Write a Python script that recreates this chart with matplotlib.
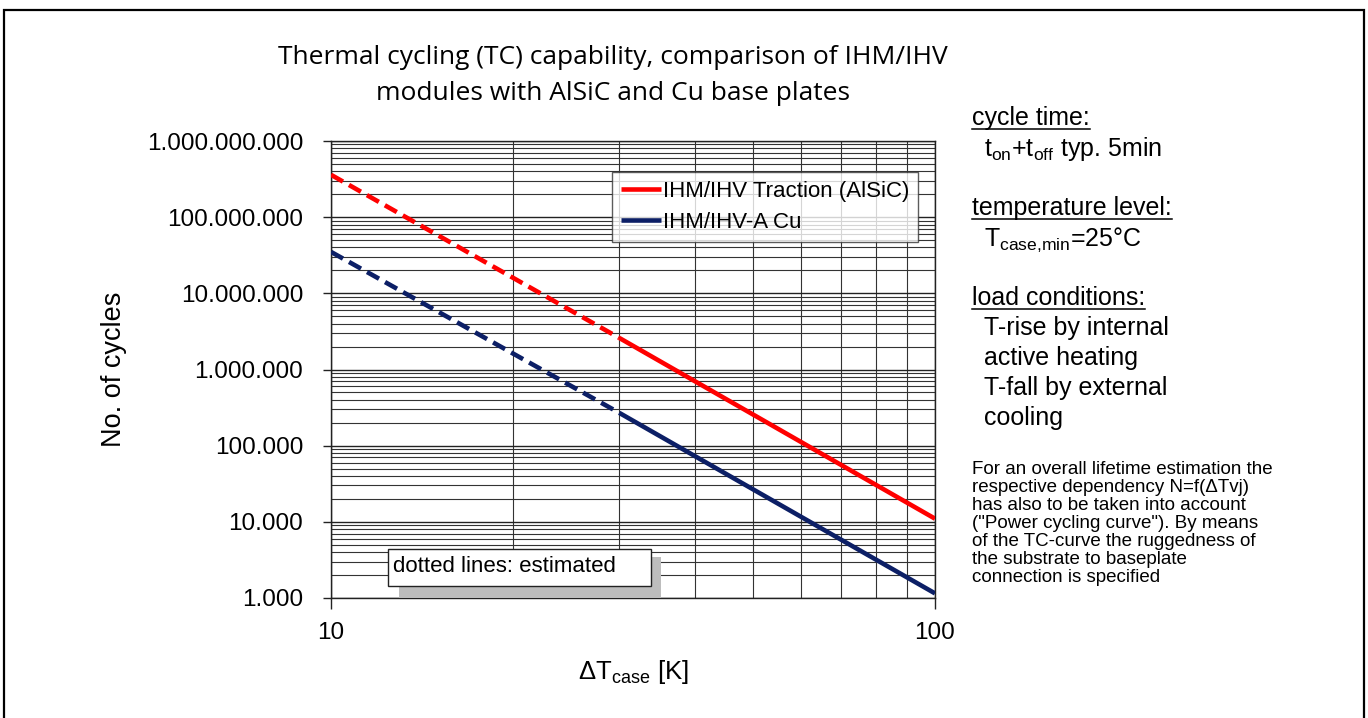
import matplotlib
matplotlib.use("Agg")
import matplotlib.pyplot as plt
from matplotlib.lines import Line2D
from matplotlib.patches import Rectangle
from matplotlib.ticker import FixedLocator, FuncFormatter, NullFormatter

plt.rcParams['font.family'] = ['Liberation Sans', 'DejaVu Sans']
plt.rcParams['mathtext.fontset'] = 'custom'
plt.rcParams['mathtext.rm'] = 'Liberation Sans'
plt.rcParams['mathtext.it'] = 'Liberation Sans'

# ---- data ----
dt_est = [10, 30]
dt_meas = [30, 100]
alsic_est = [3.6e8, 2.6e6]
alsic_meas = [2.6e6, 1.1e4]
cu_est = [3.5e7, 2.7e5]
cu_meas = [2.7e5, 1.15e3]
series_names = ["IHM/IHV Traction (AlSiC)", "IHM/IHV-A Cu"]
y_ticks = [1e3, 1e4, 1e5, 1e6, 1e7, 1e8, 1e9]
x_ticks = [10, 100]

RED = "#ff0000"
BLUE = "#0c1f66"
W, H = 1368, 718

fig = plt.figure(figsize=(13.68, 7.18), dpi=100)
ax = fig.add_axes([331 / W, 1 - 598 / H, (935 - 331) / W, (598 - 141) / H])
ax.set_xscale('log')
ax.set_yscale('log')
ax.set_xlim(10, 100)
ax.set_ylim(1e3, 1e9)

lw = 3.3
ax.plot(dt_est, alsic_est, color=RED, lw=lw, dashes=(3.0, 1.5), solid_capstyle='butt', zorder=5)
ax.plot(dt_meas, alsic_meas, color=RED, lw=lw, solid_capstyle='butt', zorder=5, label=series_names[0])
ax.plot(dt_est, cu_est, color=BLUE, lw=lw, dashes=(3.0, 1.5), solid_capstyle='butt', zorder=5)
ax.plot(dt_meas, cu_meas, color=BLUE, lw=lw, solid_capstyle='butt', zorder=5, label=series_names[1])

ax.yaxis.set_major_locator(FixedLocator(y_ticks))
ax.yaxis.set_major_formatter(FuncFormatter(lambda v, p: f"{int(round(v)):,}".replace(',', '.')))
ax.xaxis.set_major_locator(FixedLocator(x_ticks))
ax.xaxis.set_major_formatter(FuncFormatter(lambda v, p: f"{int(round(v))}"))
ax.yaxis.set_minor_formatter(NullFormatter())
ax.xaxis.set_minor_formatter(NullFormatter())
ax.tick_params(which='major', direction='out', length=6, width=1, color='#222222', labelsize=17.5, pad=14)
ax.tick_params(axis='x', which='major', labelsize=17.5, pad=9, length=8)
ax.tick_params(which='minor', length=0)
ax.grid(which='major', color='#222222', lw=1.0)
ax.grid(which='minor', color='#333333', lw=0.8)
for s in ax.spines.values():
    s.set_color('#222222')
    s.set_linewidth(1.0)

ax.set_ylabel("No. of cycles", fontsize=19.5, labelpad=14)
ax.set_xlabel(r"$\Delta\mathrm{T}_{\mathrm{case}}$ [K]", fontsize=18.5, labelpad=10)

leg = ax.legend(loc='upper left', bbox_to_anchor=(0.465, 0.932), borderaxespad=0,
                fontsize=16, handlelength=1.8, handletextpad=0.1, frameon=True,
                fancybox=False, borderpad=0.4, labelspacing=0.45)
leg.get_frame().set_edgecolor('#333333')
leg.get_frame().set_linewidth(1.0)
leg.set_zorder(10)

# text box with shadow
ax.add_patch(Rectangle((0.113, 0.0), 0.433, 0.090, transform=ax.transAxes,
                       facecolor='#bdbdbd', edgecolor='none', zorder=7))
ax.add_patch(Rectangle((0.094, 0.026), 0.436, 0.081, transform=ax.transAxes,
                       facecolor='white', edgecolor='#222222', lw=1.0, zorder=8))
ax.text(0.102, 0.070, "dotted lines: estimated", transform=ax.transAxes,
        fontsize=16, va='center', ha='left', zorder=9)

# title
fig.text(613 / W, 1 - 57 / H, "Thermal cycling (TC) capability, comparison of IHM/IHV",
         fontsize=19, family='Open Sans', ha='center', va='center')
fig.text(613 / W, 1 - 93 / H, "modules with AlSiC and Cu base plates",
         fontsize=19, family='Open Sans', ha='center', va='center')

# right side notes
notes = [
    (972, 118, "cycle time:", True),
    (984, 149, r"$\mathrm{t_{on}{+}t_{off}}$ typ. 5min", False),
    (972, 208, "temperature level:", True),
    (984, 240, r"$\mathrm{T_{case{,}min}}$=25°C", False),
    (972, 298, "load conditions:", True),
    (984, 328, "T-rise by internal", False),
    (984, 358, "active heating", False),
    (984, 388, "T-fall by external", False),
    (984, 418, "cooling", False),
]
note_texts = []
for x, y, s, ul in notes:
    t = fig.text(x / W, 1 - y / H, s, fontsize=18, ha='left', va='center')
    note_texts.append((t, ul))

para = [
    "For an overall lifetime estimation the",
    "respective dependency N=f(\u0394Tvj)",
    "has also to be taken into account",
    "(\"Power cycling curve\"). By means",
    "of the TC-curve the ruggedness of",
    "the substrate to baseplate",
    "connection is specified",
]
for i, s in enumerate(para):
    fig.text(972 / W, 1 - (470 + 18 * i) / H, s, fontsize=13.5, ha='left', va='center')

# outer frame
fig.add_artist(Rectangle((4 / W, -0.05), (1364 - 4) / W, 1.05 - 10 / H, transform=fig.transFigure,
                         facecolor='none', edgecolor='black', lw=1.6, clip_on=False))

# underlines
fig.canvas.draw()
r = fig.canvas.get_renderer()
for t, ul in note_texts:
    if ul:
        bb = t.get_window_extent(renderer=r)
        yl = bb.y0 + 1
        fig.add_artist(Line2D([bb.x0 / W, bb.x1 / W], [yl / H, yl / H], transform=fig.transFigure,
                              color='black', lw=1.1))

fig.savefig("out.png", dpi=100)
